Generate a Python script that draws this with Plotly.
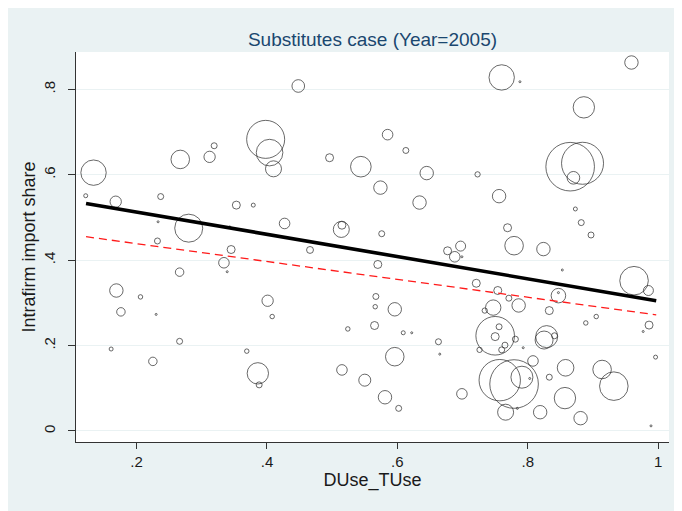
import plotly.graph_objects as go
import numpy as np

# ---- data ----
duse_tuse = [0.134, 0.122, 0.168, 0.237, 0.233, 0.267, 0.280, 0.312, 0.319, 0.232,
             0.345, 0.353, 0.343, 0.379, 0.398, 0.404, 0.410, 0.448, 0.466, 0.427,
             0.496, 0.514, 0.515, 0.544, 0.760, 0.788, 0.959, 0.886, 0.865, 0.884,
             0.870, 0.873, 0.882, 0.897, 0.585, 0.613, 0.645, 0.574, 0.723, 0.634,
             0.756, 0.576, 0.769, 0.779, 0.824, 0.697, 0.677, 0.688, 0.699, 0.570,
             0.567, 0.566, 0.565, 0.596, 0.609, 0.622, 0.596, 0.663, 0.665, 0.550,
             0.581, 0.602, 0.699, 0.721, 0.754, 0.771, 0.786, 0.747, 0.734, 0.833,
             0.847, 0.847, 0.853, 0.963, 0.985, 0.889, 0.905, 0.986, 0.977, 0.996,
             0.989, 0.750, 0.756, 0.750, 0.765, 0.760, 0.781, 0.726, 0.829, 0.825,
             0.841, 0.793, 0.808, 0.858, 0.914, 0.932, 0.833, 0.857, 0.819, 0.881,
             0.766, 0.757, 0.779, 0.791, 0.803, 0.784, 0.169, 0.176, 0.206, 0.230,
             0.161, 0.225, 0.266, 0.266, 0.334, 0.339, 0.401, 0.408, 0.369, 0.386,
             0.388, 0.524, 0.515]

intrafirm_share = [0.605, 0.551, 0.537, 0.549, 0.490, 0.636, 0.475, 0.642, 0.668, 0.445,
                   0.425, 0.529, 0.478, 0.529, 0.683, 0.652, 0.614, 0.808, 0.424, 0.486,
                   0.640, 0.472, 0.482, 0.619, 0.828, 0.818, 0.863, 0.758, 0.619, 0.627,
                   0.593, 0.520, 0.488, 0.459, 0.694, 0.657, 0.604, 0.570, 0.601, 0.535,
                   0.550, 0.462, 0.476, 0.434, 0.426, 0.433, 0.422, 0.408, 0.408, 0.390,
                   0.315, 0.291, 0.247, 0.285, 0.230, 0.230, 0.174, 0.209, 0.180, 0.119,
                   0.079, 0.053, 0.087, 0.346, 0.329, 0.311, 0.294, 0.289, 0.282, 0.282,
                   0.317, 0.324, 0.377, 0.352, 0.329, 0.253, 0.268, 0.248, 0.233, 0.173,
                   0.012, 0.223, 0.244, 0.221, 0.201, 0.190, 0.215, 0.190, 0.221, 0.213,
                   0.223, 0.195, 0.164, 0.148, 0.144, 0.105, 0.126, 0.077, 0.044, 0.030,
                   0.044, 0.119, 0.110, 0.126, 0.123, 0.053, 0.329, 0.279, 0.314, 0.273,
                   0.192, 0.163, 0.210, 0.372, 0.394, 0.373, 0.305, 0.268, 0.187, 0.135,
                   0.108, 0.239, 0.143]

# bubble weight (area-proportional)
weight = [161, 4, 32, 9, 1, 86, 196, 32, 9, 9,
          16, 16, 1, 4, 361, 177, 64, 40, 12, 28,
          16, 64, 16, 106, 161, 1, 45, 114, 590, 441,
          40, 4, 9, 9, 28, 9, 45, 45, 7, 45,
          45, 9, 16, 86, 45, 25, 16, 28, 1, 16,
          9, 5, 16, 45, 4, 1, 86, 9, 1, 36,
          45, 9, 28, 16, 16, 9, 45, 59, 7, 16,
          53, 1, 1, 204, 25, 5, 5, 16, 1, 4,
          1, 372, 9, 16, 9, 9, 9, 7, 121, 81,
          9, 1, 28, 69, 86, 204, 9, 114, 45, 45,
          64, 428, 590, 121, 1, 1, 45, 18, 5, 1,
          4, 18, 9, 18, 28, 1, 32, 5, 5, 114,
          9, 5, 28]

# fitted lines (endpoints)
fit_x = [0.1225, 0.997]
fit_y = [0.533, 0.305]
fit2_y = [0.455, 0.272]

x_ticks = [0.2, 0.4, 0.6, 0.8, 1.0]
x_ticktext = [".2", ".4", ".6", ".8", "1"]
y_ticks = [0.0, 0.2, 0.4, 0.6, 0.8]
y_ticktext = ["0", ".2", ".4", ".6", ".8"]

FONT = "Liberation Sans, Arial, sans-serif"
BG = "#EAF2F3"

fig = go.Figure()
fig.add_trace(go.Scatter(
    x=duse_tuse, y=intrafirm_share, mode="markers",
    marker=dict(symbol="circle-open", size=weight, sizemode="area", sizeref=0.5,
                color="#2a2a2a", line=dict(width=1, color="#2a2a2a")),
    showlegend=False, hoverinfo="x+y"))
fig.add_trace(go.Scatter(
    x=fit_x, y=fit2_y, mode="lines",
    line=dict(color="#ff1a1a", width=1.3, dash="8px,5px"),
    showlegend=False))
fig.add_trace(go.Scatter(
    x=fit_x, y=fit_y, mode="lines",
    line=dict(color="black", width=3.6),
    showlegend=False))

# page body adds an 8px offset; figure fills the rest of the 682x511 window
OFF = 8
W, H = 682 - OFF, 511 - OFF
L, R, T, B = 76 - OFF, 13, 52 - OFF, 69

fig.update_layout(
    width=W, height=H,
    margin=dict(l=L, r=R, t=T, b=B, pad=0),
    paper_bgcolor=BG, plot_bgcolor="white",
    font=dict(family=FONT, color="#1a1a1a"),
    title=dict(text="Substitutes case (Year=2005)", x=0.5, xref="paper",
               y=1 - (39 - OFF) / H, yref="container", xanchor="center", yanchor="middle",
               font=dict(size=19, color="#1a476f", family=FONT)),
    xaxis=dict(range=[0.1071, 1.0166], tickvals=x_ticks, ticktext=x_ticktext,
               showgrid=False, zeroline=False, showline=True, linecolor="#333333",
               linewidth=1, ticks="outside", ticklen=6, tickcolor="#333333",
               tickfont=dict(size=15, family=FONT, color="#1a1a1a"),
               title=dict(text="DUse_TUse", font=dict(size=18, family=FONT, color="#1a1a1a"),
                          standoff=3)),
    yaxis=dict(range=[-0.0258, 0.8876], tickvals=y_ticks, ticktext=y_ticktext,
               tickangle=-90, showgrid=True, gridcolor=BG, gridwidth=1.2,
               zeroline=False, showline=True, linecolor="#333333", linewidth=1,
               ticks="outside", ticklen=7, tickcolor="#333333", ticklabelstandoff=7,
               tickfont=dict(size=15, family=FONT, color="#1a1a1a"),
               title=dict(text="Intrafirm import share",
                          font=dict(size=18, family=FONT, color="#1a1a1a"), standoff=0)),
)

fig.write_html("out.html")
